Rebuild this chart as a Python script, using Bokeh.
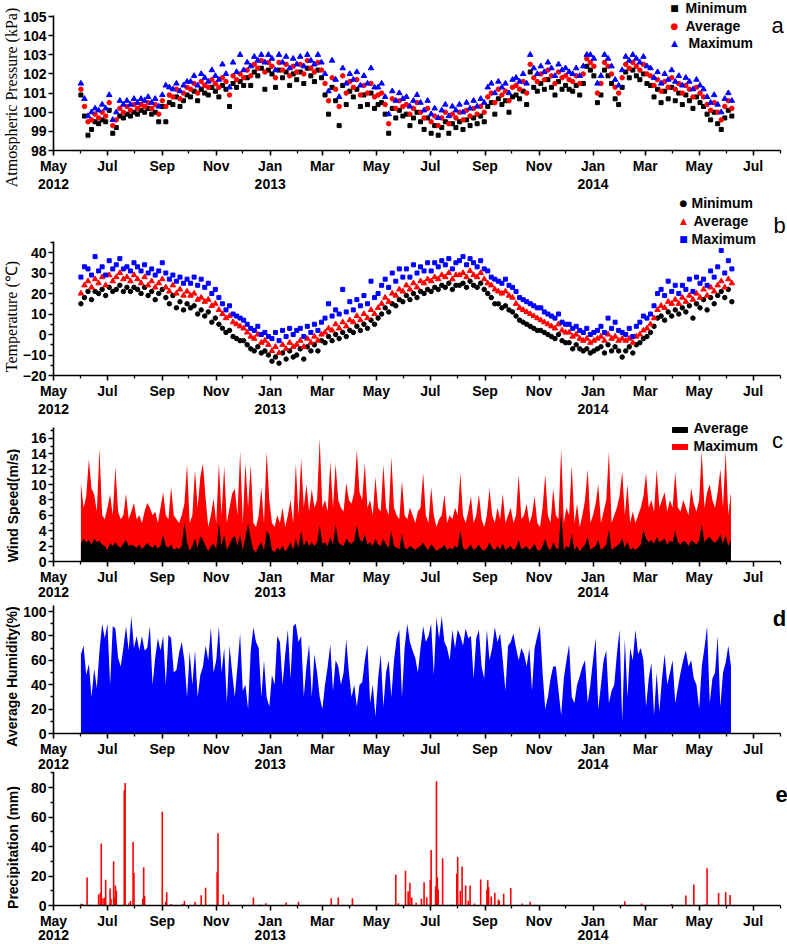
import datetime as dt
import math
from bokeh.plotting import figure
from bokeh.layouts import column, row
from bokeh.models import FixedTicker, Label, Range1d
from bokeh.embed import file_html
from bokeh.resources import INLINE

# ---------------- data ----------------
month_names = ["Jan", "Feb", "Mar", "Apr", "May", "Jun", "Jul", "Aug", "Sep", "Oct", "Nov", "Dec"]
year_label_dates = ["2012-05-01", "2013-01-01", "2014-01-01"]
year_label_texts = ["2012", "2013", "2014"]

# pressure / temperature: one reading every 4 days from 2012-06-01
pt_start = "2012-06-01"
pt_step = 4

pres_min = [
    100.9, 99.8, 98.8, 99.1, 99.5, 99.4, 99.6, 99.5,
    100.1, 98.9, 99.2, 99.8, 99.7, 99.9, 99.8, 100.0,
    99.9, 100.1, 100.0, 100.2, 99.9, 100.0, 99.5, 100.3,
    99.5, 100.5, 100.4, 100.8, 100.3, 100.6, 100.9,
    100.8, 101.1, 100.6, 101.2, 101.0, 100.9, 101.3, 101.1,
    100.8, 101.4, 101.2, 100.3, 101.5, 101.3, 101.6,
    101.4, 101.8, 101.4, 102.1, 101.9, 102.3, 101.2, 102.2,
    102.0, 101.3, 102.2, 101.8, 102.1, 101.4, 102.0, 101.7,
    102.1, 101.5, 102.3, 101.9, 101.6, 102.2, 101.8,
    100.9, 99.9, 101.3, 100.6, 99.3, 101.4, 100.4, 101.1,
    100.8, 101.2, 100.3, 100.9, 100.4, 101.0, 100.2,
    100.4, 100.5, 99.9, 98.9, 100.2, 99.7, 100.1, 99.8,
    99.9, 99.3, 99.7, 100.0, 99.5, 99.1, 99.7,
    98.9, 99.3, 98.8, 99.2, 99.5, 98.9, 99.4, 99.2,
    99.5, 99.1, 99.6, 99.3, 99.7, 99.4, 99.8, 99.5,
    100.3, 100.5, 99.9, 100.7, 100.4, 100.6, 100.0, 100.8,
    100.9, 100.7, 101.1, 100.4, 102.1, 101.3, 101.1,
    101.5, 101.2, 101.7, 101.3, 100.9, 101.6, 101.2, 101.4,
    101.2, 101.1, 101.4, 100.9, 101.5, 102.4, 102.2, 101.9,
    100.5, 100.9, 102.2, 101.9, 101.5, 100.7, 100.4, 101.3,
    102.1, 101.8, 102.2, 101.9, 101.7, 102.0, 101.5,
    101.4, 100.8, 101.2, 100.5, 101.1, 100.7, 101.3, 100.6,
    101.0, 100.4, 100.9, 100.6, 100.2, 100.8, 100.5,
    100.3, 99.9, 99.6, 100.0, 99.4, 99.1, 99.7, 100.1,
    99.8,
]
pres_avg = [
    101.2, 100.3, 99.5, 99.6, 99.9, 99.7, 100.0, 99.8,
    100.5, 99.3, 99.6, 100.2, 100.0, 100.3, 100.1, 100.4,
    100.2, 100.4, 100.3, 100.5, 100.2, 100.4, 99.9, 100.6,
    100.3, 100.9, 100.8, 101.2, 100.7, 101.0, 101.3,
    101.2, 101.5, 101.0, 101.6, 101.4, 101.3, 101.7, 101.5,
    101.3, 101.8, 101.6, 100.9, 101.9, 101.7, 102.0,
    101.8, 102.2, 101.9, 102.5, 102.3, 102.7, 102.1, 102.6,
    102.4, 101.8, 102.6, 102.2, 102.5, 101.9, 102.4, 102.1,
    102.5, 102.0, 102.7, 102.3, 102.1, 102.6, 102.2,
    101.5, 100.6, 101.8, 101.2, 100.3, 101.9, 101.0, 101.6,
    101.3, 101.7, 100.9, 101.4, 101.0, 101.5, 100.8,
    100.9, 101.0, 100.4, 99.4, 100.7, 100.2, 100.6, 100.3,
    100.4, 99.9, 100.2, 100.5, 100.0, 99.7, 100.2,
    99.5, 99.8, 99.3, 99.7, 100.0, 99.4, 99.9, 99.7,
    100.0, 99.6, 100.1, 99.8, 100.2, 99.9, 100.3, 100.0,
    100.8, 101.0, 100.5, 101.2, 100.9, 101.1, 100.6, 101.3,
    101.4, 101.2, 101.6, 101.0, 102.5, 101.8, 101.6,
    102.0, 101.7, 102.2, 101.9, 101.5, 102.1, 101.8, 101.9,
    101.7, 101.6, 101.9, 101.5, 102.0, 102.8, 102.6, 102.4,
    101.0, 101.5, 102.6, 102.4, 102.0, 101.3, 101.0, 101.8,
    102.5, 102.3, 102.6, 102.4, 102.2, 102.5, 102.0,
    101.9, 101.4, 101.7, 101.1, 101.6, 101.3, 101.8, 101.2,
    101.5, 101.0, 101.4, 101.2, 100.8, 101.3, 101.0,
    100.8, 100.4, 100.1, 100.5, 100.0, 99.6, 100.3, 100.6,
    100.2,
]
pres_max = [
    101.5, 100.7, 99.8, 100.0, 100.2, 100.1, 100.4, 100.2,
    100.9, 99.6, 100.0, 100.6, 100.4, 100.6, 100.4, 100.7,
    100.5, 100.7, 100.6, 100.8, 100.5, 100.7, 100.3, 100.9,
    101.4, 101.3, 101.2, 101.5, 101.1, 101.4, 101.6,
    101.6, 101.9, 101.4, 102.0, 101.8, 101.6, 102.2, 101.9,
    101.7, 102.5, 102.0, 101.3, 102.6, 102.1, 103.0,
    102.2, 102.6, 102.4, 102.9, 102.7, 103.0, 102.6, 103.0,
    102.8, 102.2, 103.0, 102.6, 102.9, 102.3, 102.8, 102.5,
    102.9, 102.4, 103.0, 102.7, 102.5, 103.0, 102.6,
    102.0, 101.1, 102.7, 101.7, 100.8, 102.3, 101.5, 102.0,
    101.7, 102.1, 101.4, 101.9, 101.5, 102.3, 101.3,
    101.3, 101.5, 100.8, 99.9, 101.1, 100.6, 101.0, 100.7,
    100.8, 100.3, 100.6, 100.9, 100.5, 100.1, 100.6,
    99.9, 100.2, 99.7, 100.1, 100.4, 99.8, 100.3, 100.1,
    100.4, 100.0, 100.5, 100.2, 100.6, 100.3, 100.7, 100.5,
    101.3, 101.5, 101.0, 101.6, 101.3, 101.5, 101.0, 101.7,
    101.8, 101.6, 102.0, 101.5, 103.0, 102.3, 102.0,
    102.4, 102.1, 102.6, 102.3, 101.9, 102.5, 102.2, 102.3,
    102.1, 102.0, 102.3, 101.9, 102.4, 103.0, 103.0, 102.8,
    101.5, 101.9, 103.0, 102.8, 102.4, 101.7, 101.4, 102.2,
    102.9, 102.7, 103.0, 102.8, 102.6, 102.9, 102.4,
    102.3, 101.8, 102.1, 101.5, 102.0, 101.7, 102.2, 101.6,
    101.9, 101.4, 101.8, 101.6, 101.2, 101.7, 101.4,
    101.2, 100.8, 100.5, 100.9, 100.4, 100.0, 100.7, 101.0,
    100.6,
]

temp_min = [
    15, 18, 21, 17, 21, 20, 22, 19,
    23, 21, 22, 24, 21, 23, 21, 23,
    22, 20, 23, 19, 21, 17, 20, 22,
    18, 15, 19, 13, 16, 12, 15,
    13, 14, 10, 12, 9, 11, 6, 8,
    5, 3, 1, 2, -1, -2, -3,
    -3, -5, -7, -8, -6, -9, -8, -10,
    -13, -11, -14, -9, -12, -8, -11, -10,
    -7, -12, -6, -8, -5, -8, -3,
    -4, -1, -3, 0, -2, 1, -1, 2,
    1, 4, 2, 5, 3, 7, 5,
    8, 10, 13, 11, 15, 14, 17, 16,
    19, 17, 20, 18, 21, 20, 22,
    21, 23, 22, 24, 23, 25, 22, 24,
    24, 25, 23, 26, 24, 23, 25, 22,
    20, 18, 15, 15, 13, 14, 12, 11,
    9, 7, 6, 5, 4, 3, 2,
    2, 1, 0, -1, -2, 0, -3, -4,
    -4, -7, -5, -7, -8, -7, -9, -8,
    -7, -6, -9, -5, -8, -6, -8, -11,
    -8, -6, -9, -5, -4, -2, -1,
    1, 4, 8, 9, 7, 11, 9, 12,
    10, 13, 11, 14, 8, 15, 13,
    17, 12, 18, 15, 19, 21, 18, 22,
    16,
]
temp_avg = [
    20, 24, 26, 23, 27, 25, 28, 24,
    29, 26, 28, 30, 27, 28, 26, 29,
    27, 25, 28, 24, 26, 23, 25, 27,
    23, 21, 24, 20, 22, 19, 21,
    19, 20, 17, 18, 16, 17, 14, 15,
    12, 10, 8, 9, 6, 5, 4,
    3, 1, -1, -2, 0, -4, -3, -5,
    -8, -6, -9, -5, -7, -4, -6, -5,
    -3, -6, -2, -4, -1, -3, 0,
    1, 3, 2, 5, 3, 6, 4, 7,
    6, 9, 7, 10, 8, 12, 10,
    13, 15, 18, 16, 20, 19, 22, 21,
    24, 22, 25, 23, 26, 25, 27,
    26, 28, 27, 29, 28, 30, 27, 29,
    29, 30, 28, 31, 29, 28, 30, 27,
    25, 24, 22, 21, 20, 21, 19, 18,
    15, 13, 12, 11, 10, 9, 8,
    7, 6, 5, 4, 3, 5, 2, 1,
    1, -1, 0, -2, -3, -2, -4, -3,
    -2, -1, -3, 0, -2, -1, -3, -2,
    -3, -2, -4, -1, 0, 2, 3,
    5, 8, 12, 14, 13, 16, 15, 17,
    15, 18, 16, 19, 17, 20, 18,
    22, 19, 23, 21, 24, 26, 23, 27,
    25,
]
temp_max = [
    28, 33, 32, 29, 38, 31, 33, 29,
    36, 32, 34, 37, 32, 33, 31, 35,
    33, 31, 34, 30, 32, 29, 31, 35,
    30, 27, 29, 26, 28, 25, 27,
    25, 28, 24, 27, 23, 25, 20, 22,
    18, 15, 12, 14, 10, 9, 8,
    7, 5, 3, 2, 4, 0, 1, -1,
    -2, 1, -3, 2, -1, 3, 0, 2,
    3, -1, 4, 1, 5, 2, 6,
    8, 15, 9, 12, 10, 22, 11, 16,
    12, 17, 14, 19, 15, 26, 18,
    20, 24, 27, 23, 30, 26, 32, 28,
    32, 28, 34, 30, 33, 31, 35,
    31, 35, 33, 36, 34, 37, 32, 35,
    36, 38, 34, 37, 35, 33, 36, 32,
    31, 28, 27, 26, 25, 27, 24, 23,
    21, 18, 17, 16, 15, 14, 13,
    13, 11, 10, 9, 8, 10, 6, 5,
    5, 3, 4, 2, 1, 3, 0, 1,
    2, 4, 1, 8, 3, 6, 2, 1,
    0, 3, -1, 4, 6, 9, 8,
    10, 14, 20, 22, 19, 26, 21, 24,
    20, 24, 22, 27, 21, 28, 25,
    27, 24, 31, 28, 33, 41, 30, 36,
    32,
]

# wind / humidity: one reading every 3 days from 2012-06-01
wh_start = "2012-06-01"
wh_step = 3

wind_max = [
    10.2, 7, 8.5, 13.3, 9.5, 8.7, 6.5, 14.7, 6, 5.5,
    7, 8.7, 6, 12.3, 6.5, 5.5, 6, 8.8, 5.5, 6.5,
    7.6, 5.5, 6, 5, 6.5, 7.6, 7, 6, 6.5, 5,
    7, 9, 6, 5.5, 9.7, 6, 5.5, 5, 6, 7.5,
    12.6, 5, 6, 11.9, 7, 11, 12.7, 8.2, 4.5, 6,
    8.2, 5, 12.7, 6, 12.4, 5, 7, 8.8, 9.5, 6,
    14.3, 5, 12.8, 7, 12.6, 5, 4.5, 6, 9.6, 5,
    14.3, 8, 5, 4.5, 6, 5, 7, 4.5, 6, 8,
    5, 12.7, 6, 13.4, 7, 10, 6.5, 9.4, 7, 8,
    16, 7, 8, 6.5, 13, 7, 12.7, 8, 7, 6.5,
    10.2, 8, 7.5, 9, 14.5, 9, 8, 12.8, 7, 8,
    6, 11, 7, 6.5, 12.6, 7, 6, 13.6, 7, 6,
    5.5, 10.5, 6, 5.5, 7, 6, 5, 6.5, 7, 11.5,
    6, 5, 9.7, 6, 4.5, 5.5, 6, 8.7, 5, 6,
    5.5, 7, 6, 11.5, 6, 5, 6.5, 8.5, 5, 6,
    8.7, 5.5, 4.5, 6, 9.5, 6, 5, 7, 5.5, 8.8,
    5, 6, 7, 5, 6, 11.3, 5.5, 6, 7.5, 5,
    6, 8.5, 5, 4.5, 7, 11.3, 6, 5, 9.5, 6,
    5.5, 14.7, 5, 7, 6, 12.5, 5, 7.5, 4.5, 6,
    8, 12, 5, 6, 7.5, 10, 5, 6.5, 8, 14.3,
    5, 6, 7, 8.5, 11.7, 6, 10, 5, 6.5, 5,
    6, 7, 8.5, 11.5, 7, 8, 6.5, 12, 7, 8,
    9, 6.5, 8, 7, 11.6, 7, 6.5, 8, 7, 6,
    9.5, 7.5, 6.5, 8, 14.3, 7, 9, 10, 8, 7,
    9, 12, 7, 14.3, 6, 9,
]
wind_avg = [
    2.4, 3, 2.5, 2.8, 2.2, 3, 2.5, 2.7, 2.2, 2,
    1.5, 2.4, 2, 2.5, 2, 1.8, 2.3, 2.8, 2, 2.2,
    2, 1.8, 2.2, 1.6, 2, 2.4, 2, 1.8, 2.2, 1.7,
    2, 3.5, 2, 1.8, 2.2, 1.5, 1.8, 1.6, 2, 5,
    2.5, 1.4, 2, 3, 1.8, 3.3, 2.8, 2, 1.3, 2,
    2.3, 1.6, 5, 2, 3.5, 1.5, 2.2, 3, 3.4, 2,
    3.5, 1.5, 3.2, 5, 3, 1.5, 1.2, 2, 2.5, 1.5,
    4, 3.5, 1.5, 1.2, 1.8, 1.5, 2, 1.3, 1.8, 2.5,
    1.5, 3, 1.8, 4, 2, 2.8, 2, 2.5, 2, 2.5,
    4.7, 2.3, 2.5, 2, 3.2, 2.2, 4.8, 2.5, 2.2, 2,
    3, 2.5, 2.3, 2.7, 4.7, 3, 2.5, 3.5, 2.2, 2.5,
    2, 3, 2.2, 2, 3, 2.2, 1.8, 4, 2, 1.8,
    1.6, 3.6, 1.8, 1.6, 2, 1.8, 1.5, 1.8, 2, 2.5,
    1.8, 1.5, 2.3, 1.8, 1.4, 1.6, 1.8, 2.2, 1.5, 1.8,
    1.6, 2, 1.8, 4, 1.8, 1.5, 1.8, 2.2, 1.5, 1.8,
    2.2, 1.6, 1.4, 1.8, 2.5, 1.8, 1.5, 2, 1.6, 2.3,
    1.5, 1.8, 2, 1.5, 1.8, 2.8, 1.6, 1.8, 2, 1.5,
    1.8, 2.3, 1.5, 1.4, 2, 3, 1.8, 1.5, 2.5, 1.8,
    1.6, 6.5, 1.5, 2, 1.8, 3.6, 1.5, 2, 1.3, 1.8,
    2.2, 3.2, 1.5, 1.8, 2, 2.8, 1.5, 1.8, 2.2, 4.2,
    1.5, 1.8, 2, 2.3, 3, 1.8, 2.6, 1.5, 1.8, 1.5,
    1.8, 2.2, 4.1, 3, 2.5, 2.8, 2.3, 3.2, 2.5, 2.7,
    3, 2.2, 2.7, 2.5, 4, 2.5, 2.2, 2.7, 2.5, 2,
    2.8, 2.5, 2.2, 2.7, 4.8, 2.5, 3, 3.2, 2.7, 2.4,
    2.8, 3.5, 2.3, 3.4, 2, 2.8,
]
humidity = [
    65, 72, 48, 57, 30, 53, 37, 68, 90, 78,
    90, 40, 88, 86, 62, 55, 70, 88, 68, 96,
    70, 80, 68, 80, 68, 70, 88, 40, 62, 78,
    68, 80, 40, 81, 78, 50, 52, 66, 75, 60,
    30, 67, 40, 68, 30, 48, 55, 72, 60, 87,
    50, 60, 88, 50, 70, 25, 72, 50, 30, 55,
    82, 35, 40, 20, 68, 87, 75, 70, 30, 60,
    30, 22, 48, 40, 80, 75, 40, 65, 85, 45,
    88, 90, 75, 80, 30, 55, 73, 30, 65, 50,
    30, 20, 40, 55, 73, 35, 60, 55, 40, 50,
    77, 50, 30, 40, 22, 40, 42, 60, 73, 25,
    40, 14, 45, 65, 22, 50, 60, 30, 60, 78,
    85, 30, 70, 90, 75, 68, 62, 50, 70, 88,
    75, 80, 90, 48, 95, 78, 96, 75, 70, 60,
    85, 70, 85, 80, 72, 86, 78, 80, 45, 78,
    85, 55, 45, 85, 60, 70, 87, 75, 82, 60,
    35, 72, 75, 82, 70, 60, 70, 65, 55, 70,
    35, 70, 80, 88, 50, 20, 30, 45, 55, 55,
    35, 15, 45, 60, 73, 30, 25, 40, 47, 55,
    60, 25, 40, 60, 78, 20, 40, 60, 68, 25,
    35, 40, 65, 85, 10, 77, 30, 70, 60, 85,
    65, 70, 60, 22, 45, 58, 15, 50, 18, 45,
    65, 40, 50, 60, 25, 38, 50, 60, 68, 55,
    60, 45, 40, 20, 55, 70, 88, 25, 45, 50,
    80, 22, 50, 58, 72, 55,
]

precip_dates = [
    "2012-06-01", "2012-06-03", "2012-06-08", "2012-06-11", "2012-06-21", "2012-06-23",
    "2012-06-24", "2012-06-26", "2012-06-28", "2012-06-29", "2012-07-04", "2012-07-05",
    "2012-07-08", "2012-07-09", "2012-07-10", "2012-07-11", "2012-07-20", "2012-07-21",
    "2012-07-25", "2012-07-27", "2012-07-30", "2012-07-31", "2012-08-10", "2012-08-11",
    "2012-08-12", "2012-09-01", "2012-09-05", "2012-09-06", "2012-09-11", "2012-09-24",
    "2012-09-26", "2012-10-08", "2012-10-15", "2012-10-20", "2012-11-02", "2012-11-03",
    "2012-11-09", "2012-11-15", "2012-12-13", "2012-12-21", "2012-12-27", "2013-01-19",
    "2013-02-02", "2013-03-11", "2013-03-19", "2013-04-04", "2013-05-23", "2013-05-26",
    "2013-06-03", "2013-06-06", "2013-06-08", "2013-06-10", "2013-06-15", "2013-06-21",
    "2013-06-24", "2013-06-27", "2013-07-01", "2013-07-02", "2013-07-07", "2013-07-08",
    "2013-07-09", "2013-07-10", "2013-07-15", "2013-07-26", "2013-07-31", "2013-08-01",
    "2013-08-04", "2013-08-06", "2013-08-10", "2013-08-13", "2013-08-15", "2013-08-20",
    "2013-08-27", "2013-09-03", "2013-09-04", "2013-09-05", "2013-09-08", "2013-09-12",
    "2013-09-16", "2013-09-17", "2013-09-22", "2013-09-30", "2013-10-13", "2013-10-22",
    "2014-02-06", "2014-02-25", "2014-03-31", "2014-04-16", "2014-04-25", "2014-05-07",
    "2014-05-10", "2014-05-23", "2014-05-31", "2014-06-05",
]
precip_mm = [
    1.2, 1.0, 19, 0.5, 7.5, 8.5,
    42, 5, 5.5, 17.5, 11.5, 4.5,
    30, 5.5, 13.5, 10, 78, 83,
    1.5, 3, 43, 22, 4.5, 26,
    6.5, 63.5, 2.5, 9, 1, 1,
    3, 2.5, 7, 12, 22.5, 49,
    7.5, 2.5, 5.5, 0.5, 1.5, 2,
    2.5, 5, 5.5, 5, 21, 1.5,
    23.5, 9.7, 15.4, 5.4, 1.8, 4.5,
    15.8, 5.6, 17.4, 37.7, 12.9, 84.3,
    19.2, 10.8, 32, 0.5, 21.5, 32.8,
    10, 26.4, 13.6, 3.2, 13.6, 1.4,
    17.6, 10.6, 17.2, 12.4, 6.1, 8.6,
    4.1, 3.2, 7.9, 11.8, 1.4, 2.5,
    2.9, 1.4, 1.1, 6.8, 14.2, 0.7,
    25.3, 8.4, 9, 7.2,
]

# ---------------- helpers ----------------
BASE = dt.date(2012, 5, 1)


def dnum(s):
    return (dt.date.fromisoformat(s) - BASE).days


def series_x(start, step, n):
    d0 = dnum(start)
    return [d0 + step * i for i in range(n)]


TITLE_W = 20          # narrow strip holding the vertical axis titles
IMG_X0 = 53.0         # page x of the y axis (day 0 = 2012-05-01)
AXIS_W = 727.0        # px covered by the drawn x axis (May 2012 .. Aug 2014)
X_AXIS_END = 822.0    # day number of 2014-08-01
FRAME_W = 787 - TITLE_W
PX_DAY = AXIS_W / X_AXIS_END
PAGE_H = 944
FONT = "Liberation Sans"
SERIF = "Liberation Serif"


def dx(img_x):
    return (img_x - IMG_X0) / PX_DAY


ticks_major, ticks_minor, tick_names = [], [], {}
yy, mm = 2012, 5
while (yy, mm) <= (2014, 8):
    d = (dt.date(yy, mm, 1) - BASE).days
    if mm % 2 == 1:
        ticks_major.append(d)
        tick_names[d] = month_names[mm - 1]
    else:
        ticks_minor.append(d)
    mm += 1
    if mm > 12:
        mm, yy = 1, yy + 1


class Panel:
    """Tf/Bf: frame top/bottom on the page (px); B: page y of the x axis (value y0);
    ppu: px per unit; ytop: upper end of the y axis line."""
    def __init__(self, Tf, Bf, B, y0, ppu, ytop):
        self.Tf, self.Bf, self.B, self.y0, self.ppu, self.ytop = Tf, Bf, B, y0, ppu, ytop

    def dy(self, img_y):
        return self.y0 + (self.B - img_y) / self.ppu


def make_fig(pn, yticks, yminor, year_y):
    p = figure(frame_width=FRAME_W, frame_height=int(round(pn.Bf - pn.Tf)),
               x_range=Range1d(dx(TITLE_W), dx(787)),
               y_range=Range1d(pn.dy(pn.Bf), pn.dy(pn.Tf)),
               output_backend="svg", toolbar_location=None,
               min_border_left=0, min_border_right=0,
               min_border_top=0, min_border_bottom=0)
    p.outline_line_color = None
    p.background_fill_color = "white"
    p.border_fill_color = "white"
    p.grid.visible = False
    for ax in (p.xaxis[0], p.yaxis[0]):
        ax.axis_line_width = 1.6
        ax.axis_line_color = "black"
        ax.major_tick_line_width = 1.6
        ax.minor_tick_line_width = 1.3
        ax.major_tick_in = 0
        ax.minor_tick_in = 0
        ax.major_label_text_font = FONT
        ax.major_label_text_font_style = "bold"
        ax.major_label_text_font_size = "14px"
        ax.major_label_text_color = "black"
    p.xaxis.major_label_standoff = 2
    p.yaxis.major_label_standoff = 2
    p.xaxis.major_tick_out = 5
    p.xaxis.minor_tick_out = 3
    p.yaxis.major_tick_out = 5
    p.yaxis.minor_tick_out = 3
    p.yaxis.fixed_location = 0
    p.xaxis.fixed_location = pn.y0
    p.xaxis.bounds = (0, X_AXIS_END)
    p.yaxis.bounds = (pn.y0, pn.ytop)
    p.xaxis.ticker = FixedTicker(ticks=ticks_major, minor_ticks=ticks_minor)
    p.xaxis.major_label_overrides = tick_names
    p.yaxis.ticker = FixedTicker(ticks=yticks, minor_ticks=yminor)
    # year line under the month tick labels
    for dstr, txt in zip(year_label_dates, year_label_texts):
        p.add_layout(Label(x=dnum(dstr), y=pn.dy(year_y), text=txt, text_font=FONT,
                           text_font_style="bold", text_font_size="14px",
                           text_align="center", text_baseline="middle",
                           text_color="black"))
    return p


def text_at(p, pn, text, ix, iy, color="black", size="14px", style="bold",
            font=FONT, align="left"):
    p.add_layout(Label(x=dx(ix), y=pn.dy(iy), text=text, text_font=font,
                       text_font_style=style, text_font_size=size, text_align=align,
                       text_baseline="middle", text_color=color))


PA = Panel(0, 192, 150, 98.0, 19.14, 105.05)
PB = Panel(192, 416, 375, -20.0, 2.05, 45.37)
PC = Panel(416, 598, 561, 0.0, 7.69, 17.43)
PD = Panel(598, 771, 733, 0.0, 1.22, 104.9)
PE = Panel(771, PAGE_H, 905, 0.0, 1.475, 90.85)

# ---------------- panel a: pressure ----------------
pa = make_fig(PA, list(range(98, 106)), [], 183)
pa.scatter(series_x(pt_start, pt_step, len(pres_min)), pres_min, marker="square",
           size=4, color="black")
pa.scatter(series_x(pt_start, pt_step, len(pres_avg)), pres_avg, marker="circle",
           size=4.5, color="red")
pa.scatter(series_x(pt_start, pt_step, len(pres_max)), pres_max, marker="triangle",
           size=5.5, color="blue")
for glyph, col, lab, iy, tx in [("\u25a0", "black", "Minimum", 7, 685),
                                ("\u25cf", "red", "Average", 25, 685),
                                ("\u25b2", "blue", "Maximum", 42, 688)]:
    text_at(pa, PA, glyph, 674, iy, color=col, size="9px", style="normal",
            font="DejaVu Sans", align="center")
    text_at(pa, PA, lab, tx, iy)
text_at(pa, PA, "a", 777, 25, size="22px", style="normal", align="center")

# ---------------- panel b: temperature ----------------
pb = make_fig(PB, list(range(-20, 41, 10)), list(range(-15, 46, 10)), 408)
pb.scatter(series_x(pt_start, pt_step, len(temp_min)), temp_min, marker="circle",
           size=4.5, color="black")
pb.scatter(series_x(pt_start, pt_step, len(temp_avg)), temp_avg, marker="triangle",
           size=5.5, color="red")
pb.scatter(series_x(pt_start, pt_step, len(temp_max)), temp_max, marker="square",
           size=4, color="blue")
for glyph, col, lab, iy, tx in [("\u25cf", "black", "Minimum", 202, 691),
                                ("\u25b2", "red", "Average", 220, 693),
                                ("\u25a0", "blue", "Maximum", 238, 691)]:
    text_at(pb, PB, glyph, 683, iy, color=col, size="9px", style="normal",
            font="DejaVu Sans", align="center")
    text_at(pb, PB, lab, tx, iy)
text_at(pb, PB, "b", 779, 225, size="22px", style="normal", align="center")

# ---------------- panel c: wind ----------------
pc = make_fig(PC, list(range(0, 17, 2)), list(range(1, 18, 2)), 591)
xw = series_x(wh_start, wh_step, len(wind_max))
pc.varea(x=xw, y1=[0] * len(xw), y2=wind_max, fill_color="red")
xwa = series_x(wh_start, wh_step, len(wind_avg))
pc.varea(x=xwa, y1=[0] * len(xwa), y2=wind_avg, fill_color="black")
pc.quad(left=[dx(672)], right=[dx(687)], top=[PC.dy(427)], bottom=[PC.dy(432)],
        color="black")
pc.quad(left=[dx(672)], right=[dx(687)], top=[PC.dy(444)], bottom=[PC.dy(449)],
        color="red")
text_at(pc, PC, "Average", 693, 427)
text_at(pc, PC, "Maximum", 693, 445)
text_at(pc, PC, "c", 777, 440, size="22px", style="normal", align="center")

# ---------------- panel d: humidity ----------------
pd_ = make_fig(PD, list(range(0, 101, 20)), list(range(10, 101, 20)), 763)
xh = series_x(wh_start, wh_step, len(humidity))
pd_.varea(x=xh, y1=[0] * len(xh), y2=humidity, fill_color="blue")
text_at(pd_, PD, "d", 779, 618, size="22px", style="bold", align="center")

# ---------------- panel e: precipitation ----------------
pe = make_fig(PE, list(range(0, 81, 20)), list(range(10, 91, 20)), 934)
pe.vbar(x=[dnum(s) for s in precip_dates], top=precip_mm, bottom=0, width=1.8,
        fill_color="red", line_color=None)
text_at(pe, PE, "e", 781, 794, size="22px", style="bold", align="center")

# ---------------- vertical axis titles ----------------
pt = figure(frame_width=TITLE_W, frame_height=PAGE_H, x_range=Range1d(0, TITLE_W),
            y_range=Range1d(PAGE_H, 0), output_backend="svg", toolbar_location=None,
            min_border_left=0, min_border_right=0, min_border_top=0, min_border_bottom=0,
            x_axis_type=None, y_axis_type=None)
pt.outline_line_color = None
pt.grid.visible = False
for txt, cx, cy, font, size, style in [
        ("Atmospheric Pressure (kPa)", 10.5, 97, SERIF, "16px", "normal"),
        ("Temperature (\u2103)", 11, 316, SERIF, "16px", "normal"),
        ("Wind Speed(m/s)", 12, 505, FONT, "14px", "bold"),
        ("Average Humidity(%)", 11.5, 676, FONT, "14px", "bold"),
        ("Precipitation (mm)", 12, 847, FONT, "14px", "bold")]:
    pt.add_layout(Label(x=cx, y=cy, text=txt, angle=math.pi / 2, text_font=font,
                        text_font_style=style, text_font_size=size, text_align="center",
                        text_baseline="middle", text_color="black"))

layout = row(pt, column(pa, pb, pc, pd_, pe, spacing=0), spacing=0)
open("out.html", "w").write(file_html(layout, INLINE))
